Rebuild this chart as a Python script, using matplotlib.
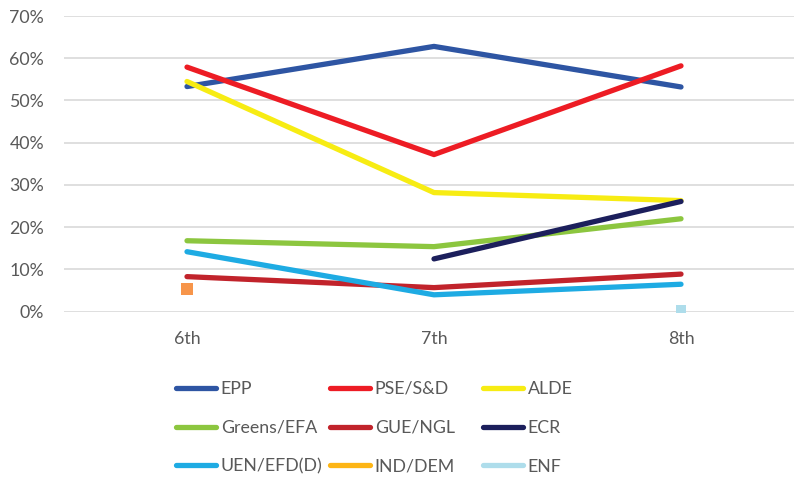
import numpy as np
import matplotlib
matplotlib.use("Agg")
import matplotlib.pyplot as plt
from matplotlib.lines import Line2D
from matplotlib.ticker import PercentFormatter

plt.rcParams['font.family'] = ['Lato', 'DejaVu Sans']

terms = ["6th", "7th", "8th"]

groups = ["EPP", "PSE/S&D", "ALDE",
          "Greens/EFA", "GUE/NGL", "ECR",
          "UEN/EFD(D)", "IND/DEM", "ENF"]

epp = [53.3, 62.8, 53.2]
pse_sd = [57.9, 37.2, 58.2]
alde = [54.5, 28.2, 26.3]
greens_efa = [16.8, 15.4, 22.0]
gue_ngl = [8.3, 5.7, 8.9]
ecr = [None, 12.5, 26.1]
uen_efd = [14.2, 4.0, 6.5]
ind_dem = [5.3, None, None]
enf = [None, None, 0.4]

series = [epp, pse_sd, alde, greens_efa, gue_ngl, ecr, uen_efd, ind_dem, enf]

line_colors = ["#2E55A3", "#ED1C24", "#F7EC13",
               "#8CC63F", "#C1232B", "#1C1F5C",
               "#1EABE3", "#FDB515", "#AEDDEB"]
marker_colors = {"IND/DEM": "#F7954A", "ENF": "#AEDDEB"}

fig = plt.figure(figsize=(7.94, 4.79), dpi=100)
ax = fig.add_axes([63.5 / 794, 1 - 311.7 / 479, (804.5 - 63.5) / 794, (311.7 - 16) / 479])

x = np.arange(len(terms))
lw = 3.8
for name, vals, col in zip(groups, series, line_colors):
    y = np.array([np.nan if v is None else v / 100 for v in vals], dtype=float)
    n_valid = np.count_nonzero(~np.isnan(y))
    if n_valid > 1:
        ax.plot(x, y, color=col, lw=lw, solid_capstyle="round",
                solid_joinstyle="round", zorder=3)
    else:
        ms = 8 if name == "IND/DEM" else 7
        ax.plot(x, y, linestyle="none", marker="s", ms=ms,
                color=marker_colors[name], markeredgewidth=0, zorder=3)

ax.set_xlim(-0.5, 2.5)
ax.set_ylim(0, 0.70)
ax.set_xticks(x)
ax.set_xticklabels(terms)
ax.set_yticks(np.arange(0, 0.71, 0.10))
ax.yaxis.set_major_formatter(PercentFormatter(1.0, decimals=0))
ax.grid(axis="y", color="#D9D9D9", lw=1.2, zorder=0)
ax.set_axisbelow(True)
for s in ax.spines.values():
    s.set_visible(False)
ax.tick_params(axis="both", length=0, labelsize=12.8, colors="#595959")
ax.tick_params(axis="y", pad=14)
ax.tick_params(axis="x", pad=14)

# legend laid out row by row in three fixed columns
handles = [Line2D([0], [0], color=c, lw=lw, solid_capstyle="round") for c in line_colors]
col_x = [175.5, 329.5, 482.5]
for i, cx in enumerate(col_x):
    leg = fig.legend(handles[i::3], groups[i::3], loc="upper left",
                     bbox_to_anchor=(cx / 794, 1 - 381 / 479), frameon=False,
                     fontsize=12.8, handlelength=2.3, handletextpad=0.25,
                     labelspacing=1.28, borderaxespad=0, borderpad=0)
    for t in leg.get_texts():
        t.set_color("#595959")

fig.savefig("out.png", dpi=100)
